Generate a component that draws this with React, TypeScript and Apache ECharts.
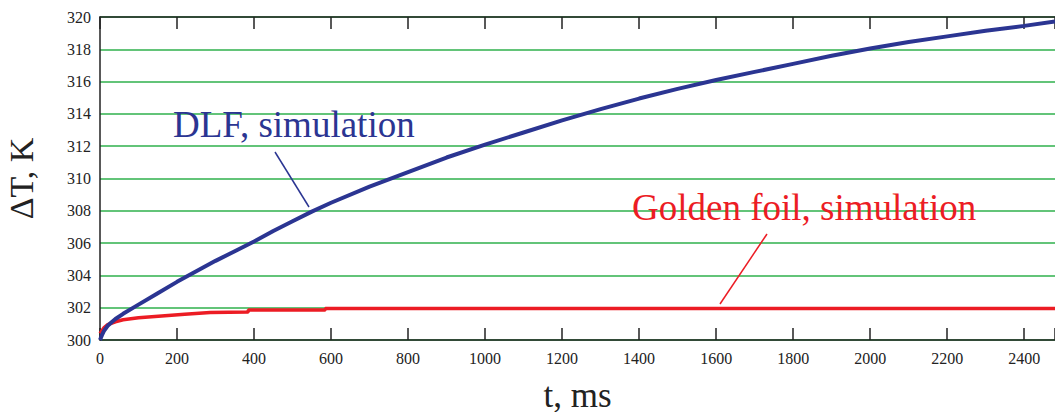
import React, { useEffect, useRef } from "react";
import * as echarts from "echarts";

const dlfTime = [0, 5, 10, 20, 30, 40, 60, 90, 150, 200, 250, 300, 350, 400, 450, 500, 550, 600, 700, 800, 900, 1000, 1100, 1200, 1300, 1400, 1500, 1600, 1700, 1800, 1900, 2000, 2100, 2200, 2300, 2400, 2480];
const dlfValues = [300.0, 300.3, 300.55, 300.88, 301.1, 301.3, 301.62, 302.05, 302.9, 303.6, 304.25, 304.9, 305.5, 306.1, 306.75, 307.35, 307.95, 308.5, 309.5, 310.4, 311.3, 312.1, 312.85, 313.6, 314.3, 314.95, 315.55, 316.1, 316.6, 317.1, 317.6, 318.05, 318.45, 318.8, 319.15, 319.45, 319.73];

const goldTime = [0, 10, 20, 40, 60, 100, 160, 220, 286, 385, 385, 585, 585, 2480];
const goldValues = [300.4, 300.75, 300.95, 301.13, 301.25, 301.38, 301.49, 301.6, 301.71, 301.73, 301.86, 301.86, 301.95, 301.95];

const xTickStep = 200;
const yTickStep = 2;
const xMax = 2480;
const yMin = 300;
const yMax = 320;

const SERIF = "Liberation Serif";

export default function App() {
  const ref = useRef<HTMLDivElement>(null);
  useEffect(() => {
    if (!ref.current) return;
    const chart = echarts.init(ref.current, undefined, { renderer: "svg" });
    const blue = "#2b3592";
    const red = "#ec1c24";
    const axisCommon = {
      min: 0,
      max: xMax,
      interval: xTickStep,
      type: "value" as const,
      axisLine: { show: true, lineStyle: { color: "#222", width: 1.5 } },
      axisTick: { show: true, inside: true, length: 12, lineStyle: { color: "#222", width: 1.5 } },
      splitLine: { show: false },
    };
    chart.setOption({
      animation: false,
      backgroundColor: "#fff",
      grid: { left: 100, right: 0, top: 17, bottom: 72, containLabel: false, outerBoundsMode: "none" },
      xAxis: [
        {
          ...axisCommon,
          position: "bottom",
          name: "t, ms",
          nameLocation: "middle",
          nameGap: 38,
          nameTextStyle: { fontFamily: SERIF, fontSize: 35, lineHeight: 34, color: "#222" },
          axisLabel: {
            fontFamily: SERIF,
            fontSize: 16,
            color: "#222",
            margin: 10,
            formatter: (v: number) => (v % xTickStep === 0 ? String(v) : ""),
          },
        },
        {
          ...axisCommon,
          position: "top",
          axisLabel: { show: false },
        },
      ],
      yAxis: {
        type: "value",
        min: yMin,
        max: yMax,
        interval: yTickStep,
        name: "ΔT, K",
        nameLocation: "middle",
        nameGap: 62,
        nameRotate: 90,
        nameTextStyle: { fontFamily: SERIF, fontSize: 34, color: "#222" },
        axisLine: { show: true, lineStyle: { color: "#222", width: 1.5 } },
        axisTick: { show: false },
        axisLabel: { fontFamily: SERIF, fontSize: 16, color: "#222", margin: 9 },
        splitLine: { show: true, lineStyle: { color: "#2fb14c", width: 1.5 } },
      },
      series: [
        {
          name: "Golden foil, simulation",
          type: "line",
          data: goldTime.map((t, i) => [t, goldValues[i]]),
          showSymbol: false,
          lineStyle: { color: red, width: 3.5 },
          z: 3,
        },
        {
          name: "DLF, simulation",
          type: "line",
          data: dlfTime.map((t, i) => [t, dlfValues[i]]),
          showSymbol: false,
          lineStyle: { color: blue, width: 4 },
          z: 4,
        },
      ],
      graphic: [
        {
          type: "text",
          style: {
            text: "DLF, simulation",
            x: 173,
            y: 124,
            fill: blue,
            fontFamily: SERIF,
            fontSize: 37,
            textAlign: "left",
            textVerticalAlign: "middle",
          },
          z: 10,
        },
        {
          type: "line",
          shape: { x1: 275, y1: 152, x2: 309, y2: 207 },
          style: { stroke: blue, lineWidth: 1.5 },
          z: 10,
        },
        {
          type: "text",
          style: {
            text: "Golden foil, simulation",
            x: 632,
            y: 207,
            fill: red,
            fontFamily: SERIF,
            fontSize: 37,
            textAlign: "left",
            textVerticalAlign: "middle",
          },
          z: 10,
        },
        {
          type: "line",
          shape: { x1: 767, y1: 234, x2: 720, y2: 304 },
          style: { stroke: red, lineWidth: 1.5 },
          z: 10,
        },
      ],
    });
    return () => chart.dispose();
  }, []);
  return (
    <div
      ref={ref}
      style={{ position: "fixed", left: 0, top: 0, width: 1055, height: 412, background: "#fff" }}
    />
  );
}
